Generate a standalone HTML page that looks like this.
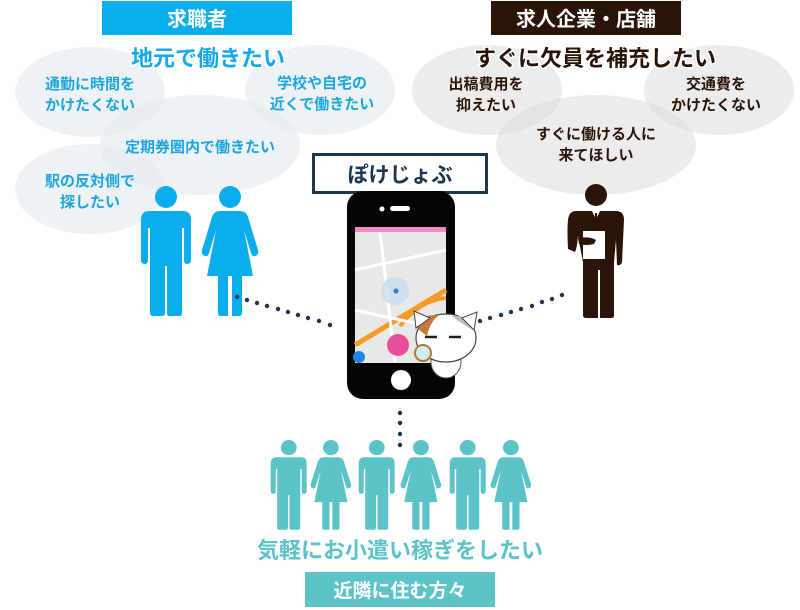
<!DOCTYPE html>
<html><head><meta charset="utf-8"><style>
html,body{margin:0;padding:0;background:#fff;width:800px;height:610px;overflow:hidden}
svg{display:block}
text{font-family:"Liberation Sans","Noto Sans CJK JP",sans-serif;font-weight:bold;text-anchor:middle}
</style></head><body>
<svg width="800" height="610" viewBox="0 0 800 610" xmlns="http://www.w3.org/2000/svg">
<defs>
<g id="man">
 <circle cx="26" cy="11" r="11"/>
 <path d="M9 25 H43 Q51 25 51 34 V74 Q51 78 47 78 Q44 78 44 74 V42 H42 V127 Q42 130 39 130 H29 Q27 130 27 127 V80 H25 V127 Q25 130 22 130 H13 Q10 130 10 127 V42 H8 V74 Q8 78 5 78 Q1 78 1 74 V34 Q1 25 9 25Z"/>
</g>
<g id="woman">
 <circle cx="29" cy="11" r="11"/>
 <path d="M19 25 H39 Q45 25 47 31 L57 64 Q58 69 54 70 Q51 71 50 67 L43 44 L52 90 H41 V127 Q41 130 38 130 H31 V90 H27 V130 H20 Q17 130 17 127 V90 H6 L15 44 L8 67 Q7 71 4 70 Q0 69 1 64 L11 31 Q13 25 19 25Z"/>
</g>
</defs>

<!-- left side -->
<rect x="102" y="1" width="190" height="34" fill="#0aaeec"/>
<text x="197" y="26" font-size="20" fill="#fff">求職者</text>
<g fill="#e4e9ee" fill-opacity="0.6">
 <ellipse cx="90" cy="92" rx="75" ry="45"/>
 <ellipse cx="320" cy="90" rx="75" ry="45"/>
 <ellipse cx="200" cy="145" rx="100" ry="50"/>
 <ellipse cx="90" cy="189" rx="75" ry="45"/>
</g>
<text x="208" y="66" font-size="22" fill="#14a9e8" stroke="#fff" stroke-width="3" paint-order="stroke">地元で働きたい</text>
<g font-size="15" fill="#1aa6e0">
 <text x="90" y="89">通勤に時間を</text>
 <text x="90" y="110">かけたくない</text>
 <text x="322" y="88">学校や自宅の</text>
 <text x="322" y="109">近くで働きたい</text>
 <text x="200" y="152">定期券圏内で働きたい</text>
 <text x="90" y="186">駅の反対側で</text>
 <text x="90" y="207">探したい</text>
</g>
<g fill="#0aaeec">
 <use href="#man" transform="translate(140,186)"/>
 <use href="#woman" transform="translate(201,186)"/>
</g>

<!-- right side -->
<rect x="491" y="1" width="190" height="34" fill="#2a1408"/>
<text x="586" y="26" font-size="20" fill="#fff">求人企業・店舗</text>
<g fill="#dcdcdc" fill-opacity="0.55">
 <ellipse cx="487" cy="90" rx="75" ry="45"/>
 <ellipse cx="719" cy="90" rx="75" ry="45"/>
 <ellipse cx="596" cy="145" rx="100" ry="50"/>
</g>
<text x="595" y="66" font-size="22" fill="#2a1408" stroke="#fff" stroke-width="3" paint-order="stroke">すぐに欠員を補充したい</text>
<g font-size="15" fill="#2a1408">
 <text x="486" y="89">出稿費用を</text>
 <text x="486" y="110">抑えたい</text>
 <text x="716" y="89">交通費を</text>
 <text x="716" y="110">かけたくない</text>
 <text x="596" y="139">すぐに働ける人に</text>
 <text x="596" y="160">来てほしい</text>
</g>
<!-- businessman -->
<g fill="#2a1408">
 <circle cx="596" cy="195" r="11"/>
 <path d="M576 211 H616 Q624 211 624 220 L622 262 Q621 266 617 265 L616 240 L614 262 V316 Q614 318 611 318 H600 V270 H598 V318 H586 Q583 318 583 315 V262 L578 236 Q577 248 575 252 L568 249 Q567 230 568 220 Q569 211 576 211Z"/>
</g>
<path d="M592 211 L596 220 L600 211Z" fill="#fff"/>
<path d="M595 213 H597 L598 228 L596 231 L594 228Z" fill="#2a1408"/>
<rect x="583" y="231" width="22" height="28" fill="#fff"/>
<path d="M578 238 Q590 236 596 240 L594 244 Q586 246 579 244Z" fill="#2a1408"/>

<!-- title -->
<rect x="313.5" y="154.5" width="173" height="38" fill="#fff" stroke="#1c3550" stroke-width="3"/>
<text x="400" y="182" font-size="21" fill="#1c3550">ぽけじょぶ</text>

<!-- phone -->
<rect x="347" y="191" width="108" height="208" rx="16" fill="#050505"/>
<circle cx="382" cy="209" r="2.5" fill="#fff"/>
<rect x="390" y="206" width="20" height="5" rx="2.5" fill="#fff"/>
<rect x="355" y="227" width="91" height="136" fill="#e8e8e6"/>
<rect x="355" y="227" width="91" height="5" fill="#f08ac0"/>
<path d="M355 345 L446 290" stroke="#f39a28" stroke-width="5"/>
<path d="M400 326 Q420 300 446 298" stroke="#f39a28" stroke-width="4" fill="none"/>
<path d="M355 270 L446 250 M380 232 L395 362 M355 310 L446 330" stroke="#fff" stroke-width="3" fill="none"/>
<circle cx="395" cy="291" r="14" fill="#c7dcef" fill-opacity="0.8"/>
<circle cx="396" cy="291" r="2.5" fill="#2c7be5"/>
<circle cx="398" cy="345" r="11" fill="#e94e9b"/>
<circle cx="359" cy="357" r="6" fill="#1e88e5"/>
<circle cx="401" cy="380" r="10" fill="#fff"/>
<!-- cat -->
<g>
 <ellipse cx="446" cy="362" rx="15" ry="16" fill="#fff" stroke="#555" stroke-width="1"/>
 <ellipse cx="446" cy="338" rx="30" ry="24" fill="#fff" stroke="#444" stroke-width="1.2"/>
 <path d="M419 330 Q420 312 438 316 Q430 322 427 336Z" fill="#c87a3a"/>
 <path d="M452 316 Q470 314 473 330 Q462 324 452 316Z" fill="#bbb"/>
 <path d="M416 328 L414 311 L430 318Z" fill="#fff" stroke="#444"/>
 <path d="M462 318 L477 312 L474 330Z" fill="#fff" stroke="#444"/>
 <path d="M425 337 H437 M449 337 H461" stroke="#222" stroke-width="2.5"/>
 <circle cx="423" cy="353" r="8" fill="#cfeef0" stroke="#b07a35" stroke-width="2"/>
</g>

<!-- dots -->
<g fill="#1c3550">
 <circle cx="237" cy="297" r="2.2"/><circle cx="247" cy="300" r="2.2"/><circle cx="257" cy="303" r="2.2"/><circle cx="267" cy="306" r="2.2"/><circle cx="278" cy="309" r="2.2"/><circle cx="288" cy="312" r="2.2"/><circle cx="298" cy="315" r="2.2"/><circle cx="308" cy="318" r="2.2"/><circle cx="319" cy="321" r="2.2"/><circle cx="330" cy="325" r="2.2"/>
 <circle cx="480" cy="321" r="2.2"/><circle cx="490" cy="318" r="2.2"/><circle cx="501" cy="315" r="2.2"/><circle cx="511" cy="312" r="2.2"/><circle cx="521" cy="309" r="2.2"/><circle cx="532" cy="306" r="2.2"/><circle cx="542" cy="302" r="2.2"/><circle cx="552" cy="299" r="2.2"/><circle cx="562" cy="295" r="2.2"/>
 <circle cx="400" cy="413" r="2.2"/><circle cx="400" cy="423" r="2.2"/><circle cx="400" cy="434" r="2.2"/><circle cx="400" cy="445" r="2.2"/>
</g>

<!-- bottom people -->
<g fill="#5cc4c8">
 <use href="#man" transform="translate(270,440) scale(0.72,0.69)"/>
 <use href="#woman" transform="translate(310,440) scale(0.72,0.69)"/>
 <use href="#man" transform="translate(358,440) scale(0.72,0.69)"/>
 <use href="#woman" transform="translate(400,440) scale(0.72,0.69)"/>
 <use href="#man" transform="translate(449,440) scale(0.72,0.69)"/>
 <use href="#woman" transform="translate(490,440) scale(0.72,0.69)"/>
</g>
<text x="400" y="558" font-size="22" fill="#5cc4c8">気軽にお小遣い稼ぎをしたい</text>
<rect x="305" y="572" width="190" height="35" fill="#5cc4c8"/>
<text x="400" y="597" font-size="19" fill="#fff">近隣に住む方々</text>
</svg>
</body></html>
